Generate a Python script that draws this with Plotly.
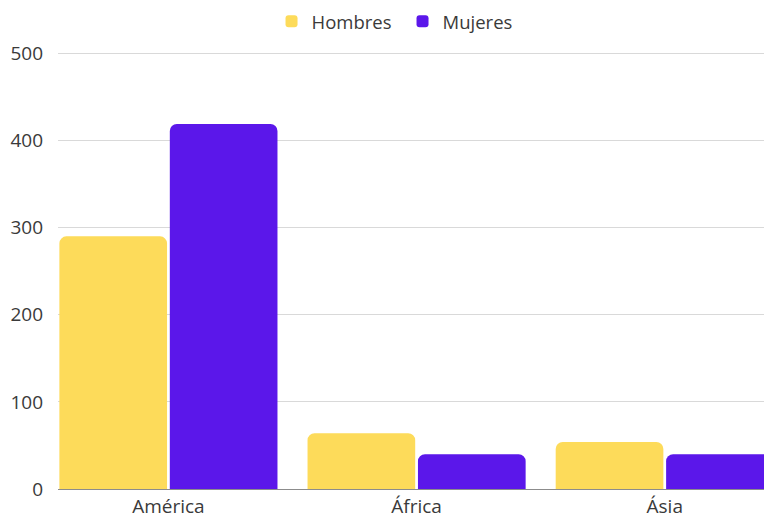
import plotly.graph_objects as go

categories = ["América", "África", "Ásia"]
hombres = [290, 64, 54]
mujeres = [419, 40, 40]
y_ticks = [0, 100, 200, 300, 400, 500]

fig = go.Figure()
fig.add_trace(go.Bar(name="Hombres", x=categories, y=hombres,
                     marker=dict(color="#FDDB5A", cornerradius=7, line=dict(width=0))))
fig.add_trace(go.Bar(name="Mujeres", x=categories, y=mujeres,
                     marker=dict(color="#5B17EA", cornerradius=7, line=dict(width=0))))

fig.update_layout(
    width=764, height=520,
    margin=dict(l=58, r=0, t=49, b=31, autoexpand=False),
    paper_bgcolor="white", plot_bgcolor="white",
    font=dict(family="Open Sans", size=19, color="#3a3a3a"),
    barmode="group", bargap=0.11, bargroupgap=0.025,
    showlegend=True,
    legend=dict(orientation="h", x=0.488, xanchor="center",
                yref="container", y=0.958, yanchor="middle",
                entrywidth=86,
                font=dict(size=18.5, color="#3a3a3a"),
                bgcolor="rgba(0,0,0,0)"),
    xaxis=dict(type="category", range=[-0.445, 2.40], showgrid=False, automargin=False,
               showline=True, linecolor="#8c8c8c", linewidth=1, ticks="",
               tickfont=dict(size=19)),
    yaxis=dict(range=[0, 505], tickvals=y_ticks, showgrid=True, gridcolor="#d9d9d9",
               gridwidth=1, zeroline=False, showline=False, ticks="", automargin=False,
               ticklabelstandoff=14, tickfont=dict(size=19)),
)

fig.write_html("out.html", config={"displayModeBar": False},
               post_script="document.body.style.margin='0';document.body.style.overflow='hidden';")
